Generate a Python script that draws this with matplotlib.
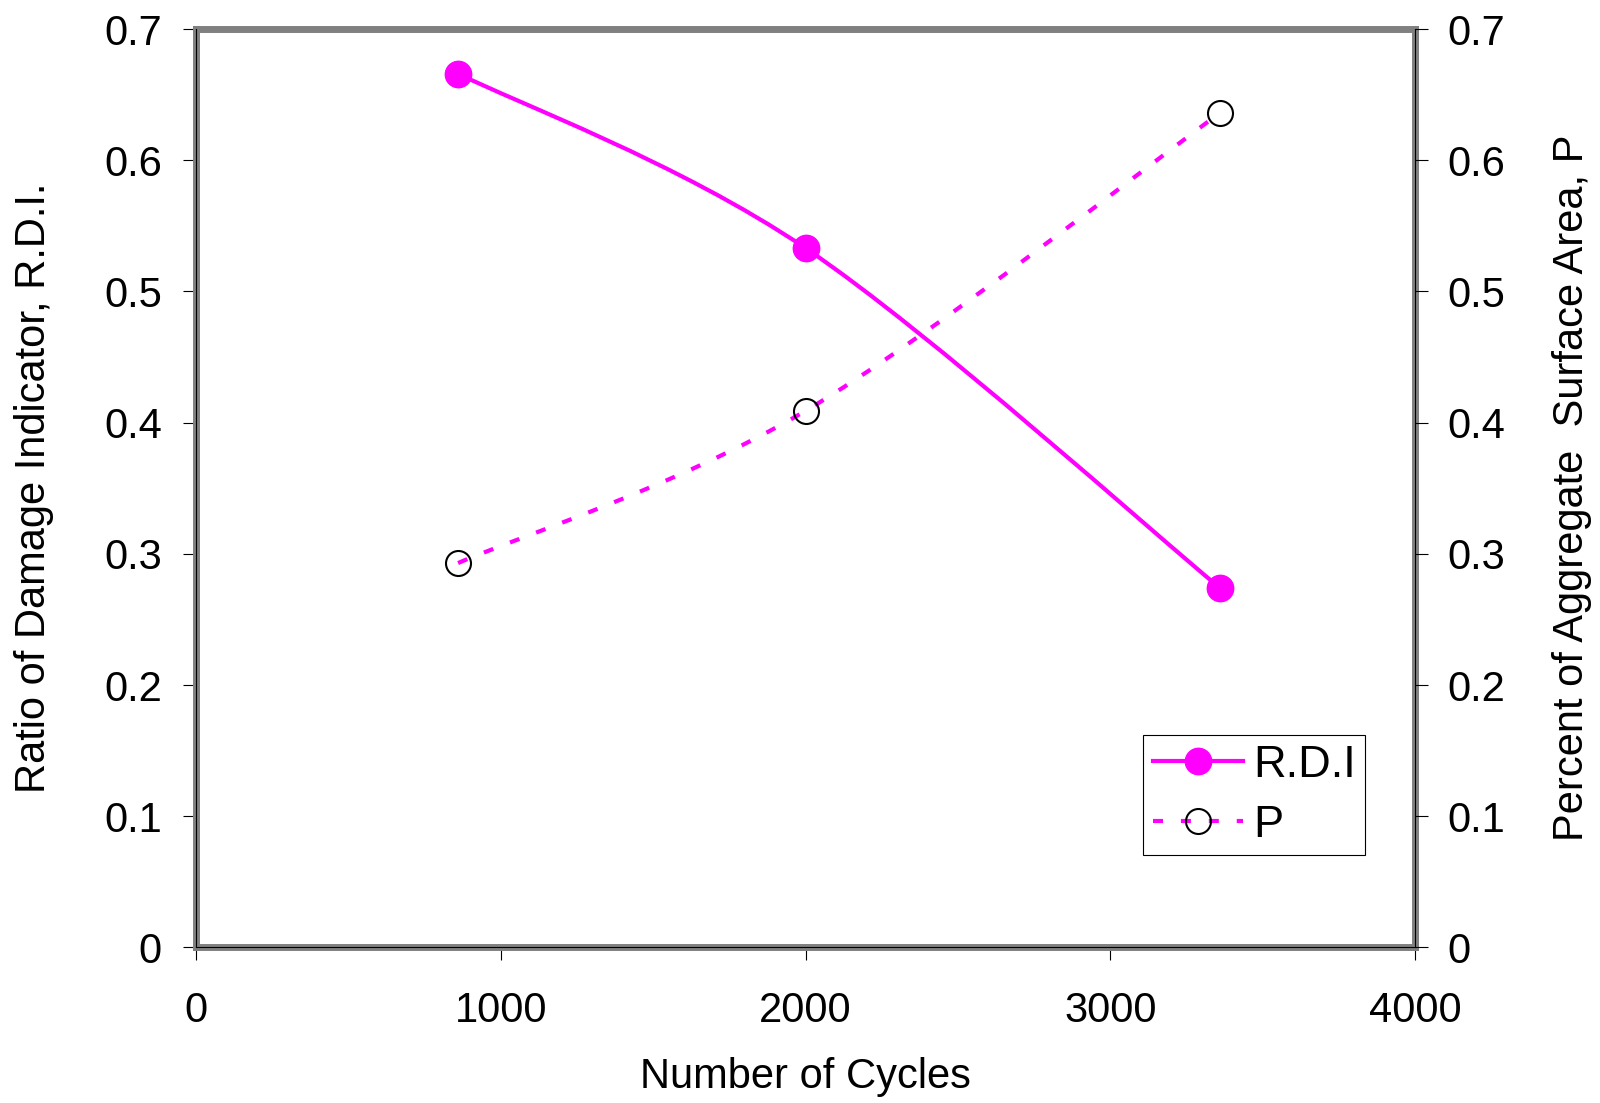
"""Ratio of damage indicator and aggregate surface area vs number of cycles."""

import numpy as np
from matplotlib import pyplot as plt
from matplotlib.lines import Line2D
from matplotlib.patches import PathPatch
from matplotlib.path import Path

plt.rcParams["font.family"] = ["Liberation Sans", "DejaVu Sans"]

# ---------------------------------------------------------------------------
# Data
# ---------------------------------------------------------------------------

cycles = [860, 2000, 3360]
rdi = [0.666, 0.533, 0.274]
p_area = [0.293, 0.409, 0.636]

x_ticks = [0, 1000, 2000, 3000, 4000]
y_ticks = [0, 0.1, 0.2, 0.3, 0.4, 0.5, 0.6, 0.7]
x_tick_labels = ["0", "1000", "2000", "3000", "4000"]
y_tick_labels = ["0", "0.1", "0.2", "0.3", "0.4", "0.5", "0.6", "0.7"]

x_label = "Number of Cycles"
y_label_left = "Ratio of Damage Indicator, R.D.I."
y_label_right = "Percent of Aggregate  Surface Area, P"
series_names = ["R.D.I", "P"]

MAGENTA = "#FF00FF"


def smooth_path(xs, ys):
    """Excel-like smoothed line: cubic Bezier segments through the points."""
    pts = np.column_stack([xs, ys]).astype(float)
    verts = [pts[0]]
    codes = [Path.MOVETO]
    n = len(pts)
    for i in range(n - 1):
        p_prev = pts[max(i - 1, 0)]
        p0, p1 = pts[i], pts[i + 1]
        p_next = pts[min(i + 2, n - 1)]
        c1 = p0 + (p1 - p_prev) / 6.0
        c2 = p1 - (p_next - p0) / 6.0
        verts += [c1, c2, p1]
        codes += [Path.CURVE4] * 3
    return Path(verts, codes)


# ---------------------------------------------------------------------------
# Figure
# ---------------------------------------------------------------------------

fig, ax = plt.subplots(figsize=(16, 11.03), dpi=100)
fig.subplots_adjust(left=0.1225, right=0.8844, top=0.9737, bottom=0.141)
ax2 = ax.twinx()

for a in (ax, ax2):
    a.set_xlim(0, 4000)
    a.set_ylim(0, 0.7)
    a.set_yticks(y_ticks)
    a.set_yticklabels(y_tick_labels)
    a.tick_params(
        axis="both",
        direction="out",
        length=9.5,
        width=0.8,
        color="black",
        labelsize=30,
    )

ax.set_xticks(x_ticks)
ax.set_xticklabels(x_tick_labels)
ax.tick_params(axis="x", pad=22)
ax.tick_params(axis="y", pad=15)
ax2.tick_params(axis="y", pad=14)

# Gray plot-area border plus thin black axis lines on top
for spine in ax.spines.values():
    spine.set_color("#808080")
    spine.set_linewidth(5)
ax2.spines["top"].set_visible(False)
for name in ("left", "right", "bottom"):
    ax2.spines[name].set_color("black")
    ax2.spines[name].set_linewidth(0.8)

# R.D.I. (left axis)
ax.add_patch(
    PathPatch(
        smooth_path(cycles, rdi),
        facecolor="none",
        edgecolor=MAGENTA,
        linewidth=3,
        capstyle="round",
    )
)
ax.plot(cycles, rdi, linestyle="none", marker="o", markersize=19, color=MAGENTA)

# P (right axis)
ax2.add_patch(
    PathPatch(
        smooth_path(cycles, p_area),
        facecolor="none",
        edgecolor=MAGENTA,
        linewidth=3,
        linestyle=(0, (2.4, 4.3)),
    )
)
ax2.plot(
    cycles,
    p_area,
    linestyle="none",
    marker="o",
    markersize=18,
    markerfacecolor="none",
    markeredgecolor="black",
    markeredgewidth=1.5,
)

# Axis titles
ax.set_xlabel(x_label, fontsize=30)
ax.xaxis.set_label_coords(0.5, -0.141)
ax.xaxis.label.set_verticalalignment("center")
ax.set_ylabel(y_label_left, fontsize=30, va="center")
ax.yaxis.set_label_coords(-0.133, 0.5)
ax2.set_ylabel(y_label_right, fontsize=30, rotation=90, va="center")
ax2.yaxis.set_label_coords(1.129, 0.5)

# Legend
handles = [
    Line2D([], [], color=MAGENTA, linewidth=3, marker="o", markersize=19),
    Line2D(
        [],
        [],
        color=MAGENTA,
        linewidth=3,
        linestyle=(0, (2.4, 4.3)),
        marker="o",
        markersize=18,
        markerfacecolor="none",
        markeredgecolor="black",
        markeredgewidth=1.5,
    ),
]
leg = ax2.legend(
    handles,
    series_names,
    loc="lower right",
    bbox_to_anchor=(0.959, 0.1007),
    borderaxespad=0,
    fontsize=32.5,
    handlelength=2.0,
    handletextpad=0.22,
    labelspacing=0.42,
    borderpad=0.21,
    fancybox=False,
    edgecolor="black",
    framealpha=1,
    numpoints=1,
)
leg.get_frame().set_linewidth(0.8)

fig.savefig("out.png", dpi=100)
plt.close(fig)
